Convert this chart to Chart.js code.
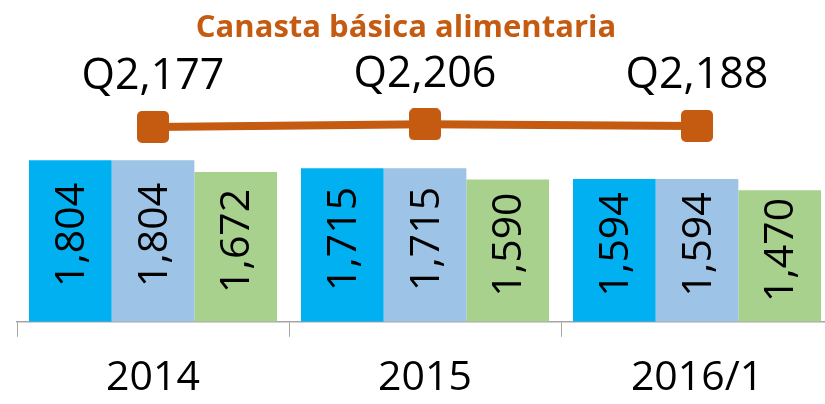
<!DOCTYPE html>
<html>
<head>
<meta charset="utf-8">
<script src="https://cdn.jsdelivr.net/npm/chart.js@4/dist/chart.umd.min.js"></script>
<style>
  html, body { margin: 0; padding: 0; background: #fff; overflow: hidden; }
  #wrap { width: 825px; height: 404px; overflow: hidden; }
</style>
</head>
<body>
<div id="wrap"><canvas id="chart" width="850" height="420"></canvas></div>
<script>
// Data.
var categories = ['2014', '2015', '2016/1'];
var serieA = [1804, 1715, 1594];
var serieB = [1804, 1715, 1594];
var serieC = [1672, 1590, 1470];
var canasta = [2177, 2206, 2188];
var titleText = 'Canasta básica alimentaria';

var ORANGE = '#C55A11';
var FONT = '"Open Sans", "Liberation Sans", sans-serif';

// Rounded square marker for the line, drawn once on a small canvas.
function makeMarker(size, radius) {
    var c = document.createElement('canvas');
    c.width = size;
    c.height = size;
    var g = c.getContext('2d');
    g.fillStyle = ORANGE;
    g.beginPath();
    g.roundRect(0, 0, size, size, radius);
    g.fill();
    return c;
}

function fmt(v) {
    return v.toLocaleString('en-US');
}

// Draws the title, the rotated bar values and the Q labels above the line.
var labelsPlugin = {
    id: 'labels',
    afterDatasetsDraw: function(chart) {
        var ctx = chart.ctx;
        ctx.save();
        ctx.fillStyle = '#000';
        ctx.textAlign = 'center';
        ctx.textBaseline = 'middle';

        chart.data.datasets.forEach(function(ds, i) {
            var meta = chart.getDatasetMeta(i);
            meta.data.forEach(function(el, j) {
                var v = ds.data[j];
                if (ds.type === 'line') {
                    ctx.font = '43px ' + FONT;
                    ctx.fillText('Q' + fmt(v), el.x, el.y - 50);
                } else {
                    ctx.font = '41px ' + FONT;
                    ctx.save();
                    ctx.translate(el.x + 2, (el.y + el.base) / 2 - 6);
                    ctx.rotate(-Math.PI / 2);
                    ctx.fillText(fmt(v), 0, 0);
                    ctx.restore();
                }
            });
        });

        // Title.
        ctx.fillStyle = ORANGE;
        ctx.font = 'bold 31px ' + FONT;
        ctx.fillText(titleText, 406, 28);
        ctx.restore();
    }
};

new Chart(document.getElementById('chart'), {
    type: 'bar',
    data: {
        labels: categories,
        datasets: [{
            type: 'line',
            data: canasta,
            borderColor: ORANGE,
            borderWidth: 8,
            pointStyle: makeMarker(32, 5),
            pointRadius: 16,
            pointHoverRadius: 16,
            fill: false,
            order: 0
        }, {
            data: serieA,
            backgroundColor: '#00B0F0',
            order: 1
        }, {
            data: serieB,
            backgroundColor: '#9DC3E6',
            order: 1
        }, {
            data: serieC,
            backgroundColor: '#A9D18E',
            order: 1
        }]
    },
    options: {
        responsive: false,
        animation: false,
        events: [],
        layout: {autoPadding: false, padding: {left: 17, right: 17, top: 98, bottom: 0}},
        datasets: {
            bar: {categoryPercentage: 0.912, barPercentage: 1.0}
        },
        scales: {
            x: {
                grid: {
                    display: true,
                    drawOnChartArea: false,
                    tickLength: 15,
                    color: '#A6A6A6'
                },
                border: {display: true, color: '#A6A6A6', width: 1.5},
                ticks: {
                    color: '#000',
                    font: {family: FONT, size: 41},
                    padding: 17
                }
            },
            y: {
                display: false,
                min: 0,
                max: 2500
            }
        },
        plugins: {
            legend: {display: false},
            tooltip: {enabled: false},
            title: {display: false}
        }
    },
    plugins: [labelsPlugin]
});
</script>
</body>
</html>
